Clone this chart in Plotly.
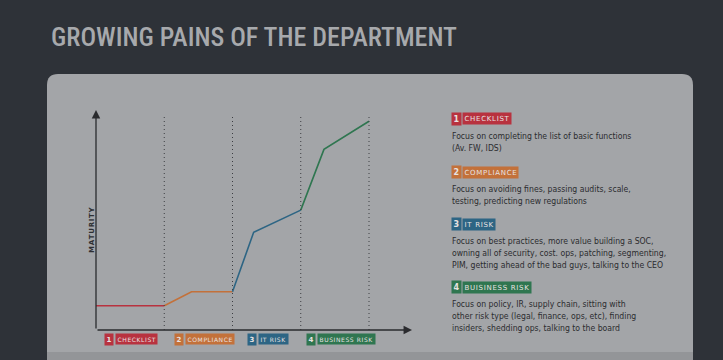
import plotly.graph_objects as go

W, H = 723, 360

# ---- data ----
phases = ["CHECKLIST", "COMPLIANCE", "IT RISK", "BUSINESS RISK"]
legend_titles = ["CHECKLIST", "COMPLIANCE", "IT RISK", "BUISINESS RISK"]
phase_colors = ["#b8323f", "#c3713a", "#2d6584", "#2f7650"]
seg_x = [[0, 1], [1, 1.4, 2], [2, 2.31, 3], [3, 3.34, 4]]
seg_y = [[1.10, 1.10], [1.10, 1.74, 1.74], [1.74, 4.44, 5.45], [5.45, 8.21, 9.49]]
divider_x = [1, 2, 3, 4]
divider_top = 9.77
descriptions = [
    ["Focus on completing the list of basic functions", "(Av. FW, IDS)"],
    ["Focus on avoiding fines, passing audits, scale,", "testing, predicting new regulations"],
    ["Focus on best practices, more value building a SOC,",
     "owning all of security, cost. ops, patching, segmenting,",
     "PIM, getting ahead of the bad guys, talking to the CEO"],
    ["Focus on policy, IR, supply chain, sitting with",
     "other risk type (legal, finance, ops, etc), finding",
     "insiders, shedding ops, talking to the board"],
]
title = "GROWING PAINS OF THE DEPARTMENT"
y_label = "MATURITY"


def px(x):
    return x / W


def py(y):
    return 1 - y / H


fig = go.Figure()

for xs, ys, c in zip(seg_x, seg_y, phase_colors):
    fig.add_trace(go.Scatter(x=xs, y=ys, mode="lines",
                             line=dict(color=c, width=1.6),
                             hoverinfo="skip", showlegend=False))

shapes = []
# background panel (rounded rect)
x0, x1, y0, y1 = px(47), px(693), py(360), py(74)
rx, ry = 11 / W, 11 / H
path = (f"M {x0},{y0} L {x0},{y1 - ry} Q {x0},{y1} {x0 + rx},{y1} "
        f"L {x1 - rx},{y1} Q {x1},{y1} {x1},{y1 - ry} L {x1},{y0} Z")
shapes.append(dict(type="path", xref="paper", yref="paper", path=path,
                   fillcolor="#a3a5a8", line=dict(width=0), layer="below"))
shapes.append(dict(type="rect", xref="paper", yref="paper",
                   x0=x0, x1=x1, y0=py(360), y1=py(352),
                   fillcolor="#939598", line=dict(width=0), layer="below"))
# dotted dividers
for dx in divider_x:
    shapes.append(dict(type="line", xref="x", yref="y", x0=dx, x1=dx, y0=0,
                       y1=divider_top, line=dict(color="#3c3e42", width=1, dash="1px,3px")))

annotations = []
# title
annotations.append(dict(text=title, xref="paper", yref="paper", x=px(49), y=py(37),
                        xanchor="left", yanchor="middle", showarrow=False,
                        font=dict(family="Roboto Condensed, DejaVu Sans Condensed, Roboto",
                                  size=26, weight=500, color="#a7a9ac")))
# axes arrows
annotations.append(dict(x=4.63, y=0, ax=0, ay=0, xref="x", yref="y", axref="x", ayref="y",
                        showarrow=True, arrowhead=2, arrowsize=1.3, arrowwidth=1.3,
                        arrowcolor="#2a2b2e", text=""))
annotations.append(dict(x=0, y=10, ax=0, ay=0, xref="x", yref="y", axref="x", ayref="y",
                        showarrow=True, arrowhead=2, arrowsize=1.3, arrowwidth=1.3,
                        arrowcolor="#2a2b2e", text=""))
# y label
annotations.append(dict(text="<b>" + "&#8202;".join(y_label) + "</b>", xref="paper",
                        yref="paper", x=px(86), y=py(230), textangle=-90, showarrow=False,
                        font=dict(family="DejaVu Sans", size=7, color="#2e2f32")))


def tag(i, name, xl, yc, size=7):
    c = phase_colors[i]
    annotations.append(dict(text=f"<b>{i + 1}</b>", xref="paper", yref="paper", x=px(xl),
                            y=py(yc), xanchor="left", yanchor="middle", showarrow=False,
                            bgcolor=c, borderpad=1.5,
                            font=dict(family="DejaVu Sans", size=size, color="#e8e2e2")))
    annotations.append(dict(text="&#8202;".join(list(name)).replace(" ", "&#160;"),
                            xref="paper", yref="paper", x=px(xl + 11),
                            y=py(yc), xanchor="left", yanchor="middle", showarrow=False,
                            bgcolor=c, borderpad=1.5,
                            font=dict(family="DejaVu Sans", size=size - 1, color="#e8e2e2")))


# bottom tags
bottom_left = [104, 174, 247, 306]
for i, name in enumerate(phases):
    tag(i, name, bottom_left[i], 339)

# right legend
head_y = [119, 172, 224, 287]
for i, name in enumerate(legend_titles):
    tag(i, name, 451, head_y[i], size=8)
    for j, line in enumerate(descriptions[i]):
        annotations.append(dict(text=line, xref="paper", yref="paper", x=px(450),
                                y=py(head_y[i] + 17 + 12 * j), xanchor="left",
                                yanchor="middle", showarrow=False,
                                font=dict(family="DejaVu Sans Condensed, DejaVu Sans",
                                          size=8.6, color="#2b2c2f")))

fig.update_layout(
    width=W, height=H, margin=dict(l=0, r=0, t=0, b=0),
    paper_bgcolor="#2e3238", plot_bgcolor="rgba(0,0,0,0)",
    shapes=shapes, annotations=annotations, showlegend=False,
    xaxis=dict(domain=[px(96), px(412)], range=[0, 4.63], visible=False, fixedrange=True),
    yaxis=dict(domain=[py(330), py(110)], range=[0, 10], visible=False, fixedrange=True),
)

fig.write_html("out.html", config={"displayModeBar": False},
               post_script="document.body.style.margin='0';document.body.style.padding='0';")
